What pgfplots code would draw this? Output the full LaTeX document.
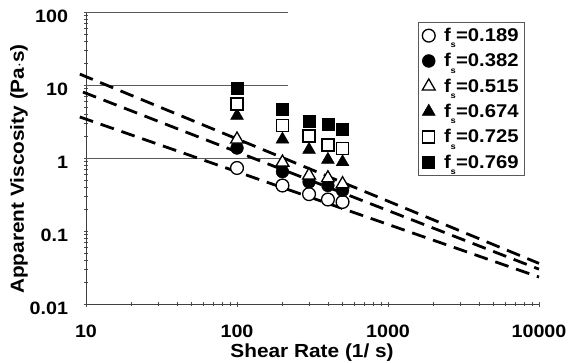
\documentclass[border=0pt]{standalone}
\usepackage{fontspec}
\setmainfont{Liberation Sans}[FakeStretch=1.1]
\usepackage{pgfplots}
\pgfplotsset{compat=1.18}
\newcommand\fs{\hspace*{7bp}f\kern-0.02em\raisebox{-0.34em}{\fontsize{8.5}{8.5}\selectfont s}\kern0.02em}
\begin{document}
\begin{tikzpicture}
\begin{axis}[
  at={(86bp,59bp)}, anchor=south west,
  scale only axis, width=453bp, height=292bp,
  xmode=log, ymode=log,
  xmin=10, xmax=10000, ymin=0.01, ymax=100,
  axis x line=bottom, axis y line=left,
  axis line style={-, black!75, line width=0.9bp},
  clip=false,
  xtick={10,100,1000,10000}, xticklabels={10,100,1000,10000},
  ytick={0.01,0.1,1,10,100}, yticklabels={0.01,0.1,1,10,100},
  minor xtick={20,30,40,50,60,70,80,90,200,300,400,500,600,700,800,900,2000,3000,4000,5000,6000,7000,8000,9000},
  minor ytick={0.02,0.03,0.04,0.05,0.06,0.07,0.08,0.09,0.2,0.3,0.4,0.5,0.6,0.7,0.8,0.9,2,3,4,5,6,7,8,9,20,30,40,50,60,70,80,90},
  major tick length=5bp, minor tick length=3.5bp,
  tick style={black!70, line width=0.7bp},
  tick label style={font=\fontsize{18}{18}\selectfont\bfseries},
  xticklabel style={yshift=-15bp},
  yticklabel style={xshift=-12bp, yshift=-4bp},
  xlabel={Shear Rate (1/ s)},
  ylabel={Apparent Viscosity (Pa$\cdot$s)},
  label style={font=\fontsize{19}{20}\selectfont\bfseries},
  xlabel style={at={(axis description cs:0.499,-0.168)}, anchor=center},
  ylabel style={at={(axis description cs:-0.148,0.462)}, anchor=center},
  legend style={at={(axis description cs:0.733,0.966)}, anchor=north west,
    draw=black!65, line width=0.6bp, font=\fontsize{18.5}{19}\selectfont\bfseries,
    row sep=6.5bp, inner xsep=4bp, inner ysep=4bp},
  legend cell align=left,
]
% partial horizontal reference lines
\addplot[forget plot, black!65, line width=0.6bp] coordinates {(10,100) (218,100)};
\addplot[forget plot, black!65, line width=0.6bp] coordinates {(10,10) (218,10)};
\addplot[forget plot, black!65, line width=0.6bp] coordinates {(10,1) (218,1)};
% power-law fits
\addplot[forget plot, black, line width=2.8bp, dash pattern=on 14bp off 8bp] coordinates {(9.1,14.1) (10000,0.036)};
\addplot[forget plot, black, line width=2.8bp, dash pattern=on 14bp off 8bp] coordinates {(9.55,8.0) (10000,0.030)};
\addplot[forget plot, black, line width=2.8bp, dash pattern=on 14bp off 8bp] coordinates {(9.1,3.65) (10000,0.0234)};
% data
\addplot[only marks, mark=*, mark size=6.4bp, mark options={fill=white, draw=black, line width=1.3bp}]
  coordinates {(100,0.73) (200,0.42) (300,0.32) (400,0.27) (500,0.25)};
\addlegendentry{\fs=0.189}
\addplot[only marks, mark=*, mark size=6.4bp, mark options={fill=black, draw=black}]
  coordinates {(100,1.37) (200,0.65) (300,0.47) (400,0.42) (500,0.36)};
\addlegendentry{\fs=0.382}
\addplot[only marks, mark=triangle*, mark size=7.4bp, mark options={fill=white, draw=black, line width=1.3bp}]
  coordinates {(100,1.8) (200,0.87) (300,0.58) (400,0.53) (500,0.44)};
\addlegendentry{\fs=0.515}
\addplot[only marks, mark=triangle*, mark size=7.4bp, mark options={fill=black, draw=black}]
  coordinates {(100,3.8) (200,1.8) (300,1.3) (400,0.95) (500,0.88)};
\addlegendentry{\fs=0.674}
\addplot[only marks, mark=square*, mark size=6bp, mark options={fill=white, draw=black, line width=1.3bp}]
  coordinates {(100,5.5) (200,2.8) (300,2.0) (400,1.5) (500,1.35)};
\addlegendentry{\fs=0.725}
\addplot[only marks, mark=square*, mark size=6bp, mark options={fill=black, draw=black}]
  coordinates {(100,9.0) (200,4.7) (300,3.2) (400,2.9) (500,2.45)};
\addlegendentry{\fs=0.769}
\end{axis}
\pgfresetboundingbox
\path[use as bounding box] (0,0) rectangle (575bp,363bp);
\end{tikzpicture}
\end{document}
